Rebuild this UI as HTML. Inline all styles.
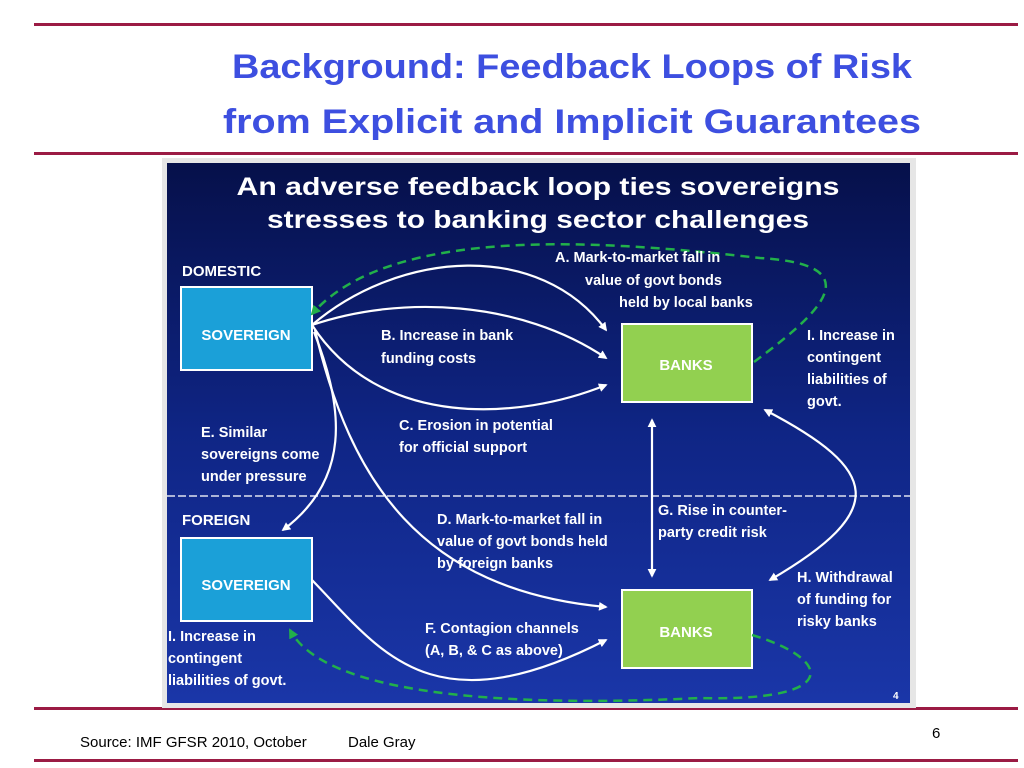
<!DOCTYPE html>
<html><head><meta charset="utf-8"><style>
html,body{margin:0;padding:0;background:#fff;}
svg{display:block;}
text{font-family:"Liberation Sans",sans-serif;}
</style></head><body>
<svg width="1024" height="768" viewBox="0 0 1024 768" xmlns="http://www.w3.org/2000/svg">
<defs>
<linearGradient id="bg" x1="0" y1="0" x2="0" y2="1">
<stop offset="0" stop-color="#06104a"/>
<stop offset="0.5" stop-color="#0f2585"/>
<stop offset="1" stop-color="#1a36a8"/>
</linearGradient>
<marker id="ah" viewBox="0 0 10 10" refX="8" refY="5" markerWidth="4" markerHeight="4" orient="auto-start-reverse">
<path d="M0,0 L10,5 L0,10 z" fill="#fff"/>
</marker>
<marker id="gh" viewBox="0 0 10 10" refX="8" refY="5" markerWidth="4" markerHeight="4" orient="auto">
<path d="M0,0 L10,5 L0,10 z" fill="#22b04a"/>
</marker>
</defs>
<rect width="1024" height="768" fill="#fff"/>
<rect x="34" y="23" width="984" height="3" fill="#9b1b44"/>
<rect x="34" y="152" width="984" height="3" fill="#9b1b44"/>
<rect x="34" y="707" width="984" height="3" fill="#9b1b44"/>
<rect x="34" y="759" width="984" height="3" fill="#9b1b44"/>
<text x="572" y="78" text-anchor="middle" font-size="34" font-weight="bold" fill="#3d4fe0" textLength="680" lengthAdjust="spacingAndGlyphs">Background: Feedback Loops of Risk</text>
<text x="572" y="133" text-anchor="middle" font-size="34" font-weight="bold" fill="#3d4fe0" textLength="698" lengthAdjust="spacingAndGlyphs">from Explicit and Implicit Guarantees</text>

<rect x="162" y="158" width="754" height="550" fill="#e6e6e6"/>
<rect x="167" y="163" width="743" height="540" fill="url(#bg)"/>
<text x="538" y="195" text-anchor="middle" font-size="25" font-weight="bold" fill="#fff" textLength="603" lengthAdjust="spacingAndGlyphs">An adverse feedback loop ties sovereigns</text>
<text x="538" y="228" text-anchor="middle" font-size="25" font-weight="bold" fill="#fff" textLength="542" lengthAdjust="spacingAndGlyphs">stresses to banking sector challenges</text>

<line x1="167" y1="496" x2="910" y2="496" stroke="#dfe3f0" stroke-width="1.5" stroke-dasharray="8,3"/>

<rect x="181" y="287" width="131" height="83" fill="#1ba0d8" stroke="#fff" stroke-width="2"/>
<rect x="181" y="538" width="131" height="83" fill="#1ba0d8" stroke="#fff" stroke-width="2"/>
<rect x="622" y="324" width="130" height="78" fill="#92d050" stroke="#fff" stroke-width="2"/>
<rect x="622" y="590" width="130" height="78" fill="#92d050" stroke="#fff" stroke-width="2"/>
<g font-weight="bold" fill="#fff" text-anchor="middle" font-size="15">
<text x="246" y="340">SOVEREIGN</text>
<text x="246" y="590">SOVEREIGN</text>
<text x="686" y="370">BANKS</text>
<text x="686" y="637">BANKS</text>
</g>

<g fill="none" stroke="#fff" stroke-width="2.2" marker-end="url(#ah)">
<path d="M312,325 C400,250 540,240 606,330"/>
<path d="M312,325 C400,295 520,300 606,358"/>
<path d="M312,325 C380,430 520,420 606,385"/>
<path d="M315,330 C350,480 420,590 606,607"/>
<path d="M314,332 C345,410 350,480 283,530"/>
<path d="M312,580 C380,650 430,730 606,640"/>
<path d="M652,420 L652,576" marker-start="url(#ah)"/>
<path d="M765,410 C880,470 890,510 770,580" marker-start="url(#ah)"/>
</g>
<g fill="none" stroke="#22b04a" stroke-width="2.5" stroke-dasharray="9,6">
<path d="M754,362 C810,320 880,265 760,258 C600,240 390,225 312,314" marker-end="url(#gh)"/>
<path d="M752,635 C835,660 840,702 700,698 C560,705 330,705 290,630" marker-end="url(#gh)"/>
</g>

<g fill="#fff" font-size="14.5" font-weight="bold">
<text x="182" y="276" font-size="15">DOMESTIC</text>
<text x="182" y="525" font-size="15">FOREIGN</text>
<text x="555" y="262">A.  Mark-to-market fall in</text>
<text x="585" y="285">value of govt bonds</text>
<text x="619" y="307">held by local banks</text>
<text x="381" y="340">B. Increase in bank</text>
<text x="381" y="363">funding costs</text>
<text x="399" y="430">C. Erosion in potential</text>
<text x="399" y="452">for official support</text>
<text x="201" y="437">E. Similar</text>
<text x="201" y="459">sovereigns come</text>
<text x="201" y="481">under pressure</text>
<text x="437" y="524">D. Mark-to-market fall in</text>
<text x="437" y="546">value of govt bonds held</text>
<text x="437" y="568">by foreign banks</text>
<text x="658" y="515">G. Rise in counter-</text>
<text x="658" y="537">party credit risk</text>
<text x="797" y="582">H. Withdrawal</text>
<text x="797" y="604">of funding for</text>
<text x="797" y="626">risky banks</text>
<text x="807" y="340">I. Increase in</text>
<text x="807" y="362">contingent</text>
<text x="807" y="384">liabilities of</text>
<text x="807" y="406">govt.</text>
<text x="168" y="641">I. Increase in</text>
<text x="168" y="663">contingent</text>
<text x="168" y="685">liabilities of govt.</text>
<text x="425" y="633">F. Contagion channels</text>
<text x="425" y="655">(A, B, &amp; C as above)</text>
<text x="893" y="699" font-size="10">4</text>
</g>

<text x="80" y="747" font-size="15" fill="#000">Source: IMF GFSR 2010, October</text>
<text x="348" y="747" font-size="15" fill="#000">Dale Gray</text>
<text x="932" y="738" font-size="15" fill="#000">6</text>
</svg>
</body></html>
